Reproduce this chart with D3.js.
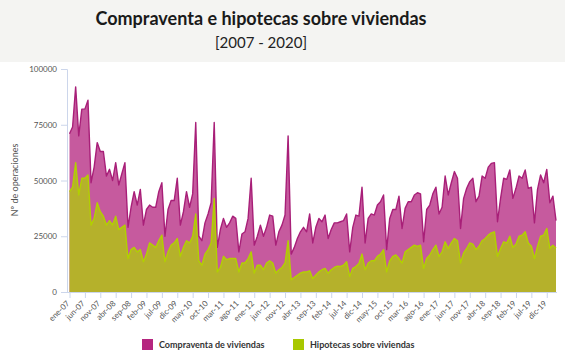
<!DOCTYPE html>
<html>
<head>
<meta charset="utf-8">
<script src="https://cdn.jsdelivr.net/npm/d3@7"></script>
<style>
  body { margin: 0; background: #fff; }
  svg { display: block; font-family: Lato, 'Open Sans', sans-serif; }
</style>
</head>
<body>
<svg id="chart" width="567" height="361"></svg>
<script>
// meses (ene-07 .. mar-20)
const meses = ['ene','feb','mar','abr','may','jun','jul','ago','sep','oct','nov','dic']

// Compraventa de viviendas (nº operaciones)
const compraventa = [
  71000, 74000, 92000, 70000, 82000, 82000, 86000, 49000, 56000, 67000, 63000, 63000,
  52000, 55000, 50000, 58000, 48000, 53000, 58000, 29000, 38000, 45000, 39000, 46000,
  30000, 37000, 39000, 38000, 38000, 45000, 49000, 25000, 37000, 41000, 41000, 51000,
  30000, 36000, 45000, 38000, 44000, 76000, 25000, 23000, 31000, 35000, 40000, 76000,
  20000, 28000, 33000, 29000, 31000, 34000, 33000, 18000, 26000, 27000, 33000, 51000,
  21000, 25000, 30000, 25000, 29000, 34500, 34000, 21000, 27000, 30000, 34500, 70000,
  17000, 20000, 24000, 27000, 29000, 27000, 35000, 22000, 29000, 33000, 31500, 34500,
  24000, 28000, 31000, 31000, 31500, 32000, 35000, 18000, 29000, 34500, 34000, 47000,
  22000, 33000, 35000, 34500, 39000, 40500, 43500, 19000, 33000, 37000, 37000, 43000,
  28500, 37500, 40500, 40500, 43500, 44500, 44000, 22500, 37000, 39000, 44000, 47000,
  35000, 38000, 52000, 43500, 49000, 54000, 51000, 28500, 42000, 46500, 49500, 51000,
  40500, 43000, 52000, 51000, 56000, 57700, 58000, 31500, 42000, 51000, 50500, 54700,
  42000, 46500, 52000, 51000, 54700, 46500, 47000, 31000, 46000, 52500, 49000, 55000,
  40000, 43000, 32000
]

// Hipotecas sobre viviendas (nº operaciones)
const hipotecas = [
  45000, 47000, 58000, 43500, 51000, 51000, 52500, 30000, 33000, 40000, 36000, 34000,
  30000, 32000, 30000, 34000, 28000, 29000, 30000, 15000, 19000, 20000, 18000, 19000,
  13600, 17000, 22000, 21000, 20000, 23000, 25500, 13600, 18000, 21000, 22000, 24000,
  16000, 20000, 23000, 22000, 25000, 35000, 14000, 12000, 17000, 19000, 22000, 42000,
  9000, 11000, 16000, 14500, 15000, 15000, 15000, 9000, 13000, 13000, 15000, 18000,
  8500, 12000, 12000, 10000, 13000, 14000, 13000, 8500, 10000, 11000, 13000, 23000,
  5500, 6500, 7500, 8500, 9000, 9000, 9500, 6000, 7600, 9000, 10000, 10600,
  8400, 10000, 11000, 11600, 11500, 12000, 13600, 7000, 10600, 11400, 12800, 17000,
  10000, 13000, 14000, 14000, 16000, 17000, 19000, 9000, 14000, 16000, 16600, 15000,
  13000, 18000, 19000, 20000, 21000, 20500, 21000, 10600, 15000, 16600, 19000, 21000,
  16000, 18000, 22500, 19500, 22000, 24000, 23000, 13000, 17500, 19500, 22000, 21500,
  19000, 20500, 23000, 24000, 25500, 26500, 27000, 16000, 19500, 22500, 22000, 25000,
  20000, 21500, 25000, 25500, 27000, 22000, 20500, 15000, 20500, 25000, 25500, 28500,
  19600, 21000, 19600
]

const tickLabels = ['ene-07','jun-07','nov-07','abr-08','sep-08','feb-09','jul-09','dic-09',
  'may-10','oct-10','mar-11','ago-11','ene-12','jun-12','nov-12','abr-13','sep-13','feb-14',
  'jul-14','dic-14','may-15','oct-15','mar-16','ago-16','ene-17','jun-17','nov-17','abr-18',
  'sep-18','feb-19','jul-19','dic-19']

const yTicks = [0, 25000, 50000, 75000, 100000]

const series = [
  {name: 'Compraventa de viviendas', values: compraventa, fill: '#c65a9e', line: '#a81f78', legend: '#b5267f'},
  {name: 'Hipotecas sobre viviendas', values: hipotecas, fill: '#b5b12b', line: '#b2d000', legend: '#a8c800'}
]

const fechas = compraventa.map((d, i) => meses[i % 12] + '-' + String(7 + Math.floor(i / 12)).padStart(2, '0'))

const svg = d3.select('#chart')

// cabecera
svg.append('rect').attr('x', 0).attr('y', 0).attr('width', 565).attr('height', 62).attr('fill', '#f4f4f2')
svg.append('text').attr('x', 261).attr('y', 25).attr('text-anchor', 'middle')
  .attr('font-size', 18).attr('font-weight', 'bold').attr('fill', '#1a1a1a')
  .text('Compraventa e hipotecas sobre viviendas')
svg.append('text').attr('x', 261).attr('y', 48).attr('text-anchor', 'middle')
  .attr('font-size', 15).attr('fill', '#222')
  .text('[2007 - 2020]')

const x = d3.scaleLinear().domain([0, fechas.length - 1]).range([69.5, 556])
const y = d3.scaleLinear().domain([0, 100000]).range([292, 69])

// eje y
const yAxis = svg.append('g').attr('transform', 'translate(67,0)')
  .call(d3.axisLeft(y).tickValues(yTicks).tickFormat(d3.format('d')).tickSize(6).tickPadding(4))
yAxis.select('.domain').attr('stroke', '#ccd6eb')
yAxis.selectAll('.tick line').attr('stroke', '#ccd6eb')
yAxis.selectAll('text').attr('font-size', 8).attr('fill', '#555').attr('font-family', 'Lato, sans-serif')

svg.append('text')
  .attr('transform', 'translate(18,180) rotate(-90)')
  .attr('text-anchor', 'middle').attr('font-size', 9).attr('fill', '#555')
  .text('Nº de operaciones')

// areas
const area = vals => d3.area().x((d, i) => x(i)).y0(y(0)).y1(d => y(d))(vals)
const line = vals => d3.line().x((d, i) => x(i)).y(d => y(d))(vals)

series.forEach(s => {
  svg.append('path').attr('d', area(s.values)).attr('fill', s.fill)
})
series.forEach(s => {
  svg.append('path').attr('d', line(s.values)).attr('fill', 'none')
    .attr('stroke', s.line).attr('stroke-width', 1.4).attr('stroke-linejoin', 'round')
})

// eje x
const xAxis = svg.append('g').attr('transform', 'translate(0,292)')
  .call(d3.axisBottom(x).tickValues(tickLabels.map(t => fechas.indexOf(t)))
    .tickFormat(i => fechas[i]).tickSize(6).tickSizeOuter(0))
xAxis.select('.domain').attr('stroke', '#ccd6eb').attr('d', 'M67,0.5H557')
xAxis.selectAll('.tick line').attr('stroke', '#ccd6eb')
xAxis.selectAll('text')
  .attr('font-size', 8).attr('fill', '#555').attr('font-family', 'Lato, sans-serif')
  .attr('text-anchor', 'end')
  .attr('x', 0).attr('y', 0).attr('dy', '0.35em')
  .attr('transform', 'translate(-2,10) rotate(-45)')

// leyenda
const legend = svg.append('g')
const lx = [142, 293]
series.forEach((s, k) => {
  legend.append('rect').attr('x', lx[k]).attr('y', 339).attr('width', 11).attr('height', 11).attr('fill', s.legend)
  legend.append('text').attr('x', lx[k] + 17).attr('y', 348)
    .attr('font-size', 9).attr('font-weight', 'bold').attr('fill', '#333')
    .text(s.name)
})
</script>
</body>
</html>
